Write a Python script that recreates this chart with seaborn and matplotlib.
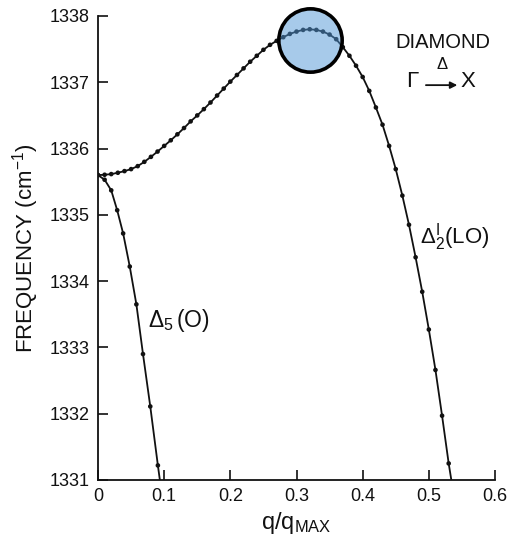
import matplotlib
matplotlib.use("Agg")
import matplotlib.pyplot as plt
import seaborn as sns

# Upper branch: Delta'_2 (LO), frequency in cm^-1 against reduced wave vector
lo_q = [0.00, 0.01, 0.02, 0.03, 0.04, 0.05, 0.06, 0.07, 0.08, 0.09,
        0.10, 0.11, 0.12, 0.13, 0.14, 0.15, 0.16, 0.17, 0.18, 0.19,
        0.20, 0.21, 0.22, 0.23, 0.24, 0.25, 0.26, 0.27, 0.28, 0.29,
        0.30, 0.31, 0.32, 0.33, 0.34, 0.35, 0.36, 0.37, 0.38, 0.39,
        0.40, 0.41, 0.42, 0.43, 0.44, 0.45, 0.46, 0.47, 0.48, 0.49,
        0.50, 0.51, 0.52, 0.53]
lo_freq = [1335.600, 1335.605, 1335.615, 1335.635, 1335.660, 1335.690, 1335.735, 1335.800, 1335.875, 1335.955,
           1336.040, 1336.125, 1336.215, 1336.310, 1336.410, 1336.500, 1336.595, 1336.695, 1336.800, 1336.905,
           1337.010, 1337.110, 1337.210, 1337.310, 1337.400, 1337.490, 1337.565, 1337.625, 1337.680, 1337.730,
           1337.765, 1337.790, 1337.800, 1337.790, 1337.765, 1337.720, 1337.650, 1337.530, 1337.400, 1337.250,
           1337.080, 1336.870, 1336.620, 1336.360, 1336.040, 1335.690, 1335.290, 1334.850, 1334.360, 1333.840,
           1333.270, 1332.660, 1331.970, 1331.250]
# where the LO curve runs into the bottom of the frame
lo_end_q = [0.534]
lo_end_freq = [1331.0]

# Lower branch: Delta_5 (O)
o_q = [0.000, 0.010, 0.020, 0.029, 0.038, 0.048, 0.058, 0.068, 0.079, 0.0905]
o_freq = [1335.60, 1335.53, 1335.37, 1335.07, 1334.72, 1334.22, 1333.65, 1332.90, 1332.11, 1331.22]
o_end_q = [0.0935]
o_end_freq = [1331.0]

# maximum of the LO branch, ringed on the plot
peak_q = [0.32]
peak_freq = [1337.64]

x_ticks = [0.0, 0.1, 0.2, 0.3, 0.4, 0.5, 0.6]
x_tick_labels = ["0", "0.1", "0.2", "0.3", "0.4", "0.5", "0.6"]
y_ticks = [1331, 1332, 1333, 1334, 1335, 1336, 1337, 1338]
y_tick_labels = ["1331", "1332", "1333", "1334", "1335", "1336", "1337", "1338"]

sns.set_theme(style="ticks")
plt.rcParams["font.family"] = ["Liberation Sans", "DejaVu Sans"]
plt.rcParams["mathtext.fontset"] = "custom"
plt.rcParams["mathtext.rm"] = "Liberation Sans"
plt.rcParams["mathtext.it"] = "Liberation Sans"
plt.rcParams["mathtext.bf"] = "Liberation Sans:bold"

ink = "#111111"
fig = plt.figure(figsize=(5.25, 5.41), dpi=100)
ax = fig.add_axes([98 / 525, 61 / 541, 397 / 525, 464 / 541])

# curves
sns.lineplot(x=lo_q + lo_end_q, y=lo_freq + lo_end_freq, color=ink, lw=1.3,
             sort=False, estimator=None, ax=ax, zorder=2)
sns.lineplot(x=o_q + o_end_q, y=o_freq + o_end_freq, color=ink, lw=1.3,
             sort=False, estimator=None, ax=ax, zorder=2)
# computed points
sns.scatterplot(x=lo_q, y=lo_freq, s=11, color=ink, edgecolor="none", ax=ax, zorder=3)
sns.scatterplot(x=o_q, y=o_freq, s=11, color=ink, edgecolor="none", ax=ax, zorder=3)

# highlight ring around the maximum
ax.scatter(peak_q, peak_freq, s=2080, marker="o",
           facecolor=(80 / 255, 150 / 255, 215 / 255, 0.5),
           edgecolor="black", linewidth=2.6, clip_on=False, zorder=5)

ax.set_xlim(0, 0.6)
ax.set_ylim(1331, 1338)
ax.set_xticks(x_ticks)
ax.set_xticklabels(x_tick_labels)
ax.set_yticks(y_ticks)
ax.set_yticklabels(y_tick_labels)
ax.tick_params(direction="in", length=7, width=1.2, colors=ink, labelsize=13, pad=6)
sns.despine(ax=ax)
for side in ("left", "bottom"):
    ax.spines[side].set_linewidth(1.3)
    ax.spines[side].set_color(ink)

ax.set_xlabel(r"q/q$_{\mathrm{MAX}}$", fontsize=17, color=ink, labelpad=3)
ax.set_ylabel(r"FREQUENCY (cm$^{-1}$)", fontsize=16, color=ink, labelpad=6)

# branch labels
ax.text(0.126, 0.343, r"$\Delta_5\,$(O)", transform=ax.transAxes,
        fontsize=16.5, color=ink, ha="left", va="center")
ax.text(0.812, 0.523, r"$\Delta_2^{\mathrm{I}}$(LO)", transform=ax.transAxes,
        fontsize=16, color=ink, ha="left", va="center")

# crystal and direction
ax.text(0.868, 0.942, "DIAMOND", transform=ax.transAxes,
        fontsize=14.5, color=ink, ha="center", va="center")
ax.text(0.791, 0.858, "Γ", transform=ax.transAxes,
        fontsize=16, color=ink, ha="center", va="center")
ax.text(0.931, 0.858, "X", transform=ax.transAxes,
        fontsize=16, color=ink, ha="center", va="center")
ax.text(0.866, 0.895, "Δ", transform=ax.transAxes,
        fontsize=12, color=ink, ha="center", va="center")
ax.annotate("", xy=(0.905, 0.851), xytext=(0.826, 0.851),
            xycoords="axes fraction", textcoords="axes fraction",
            arrowprops=dict(arrowstyle="-|>", color=ink, lw=1.3,
                            mutation_scale=10, shrinkA=0, shrinkB=0))

fig.savefig("out.png", dpi=100, facecolor="white")
